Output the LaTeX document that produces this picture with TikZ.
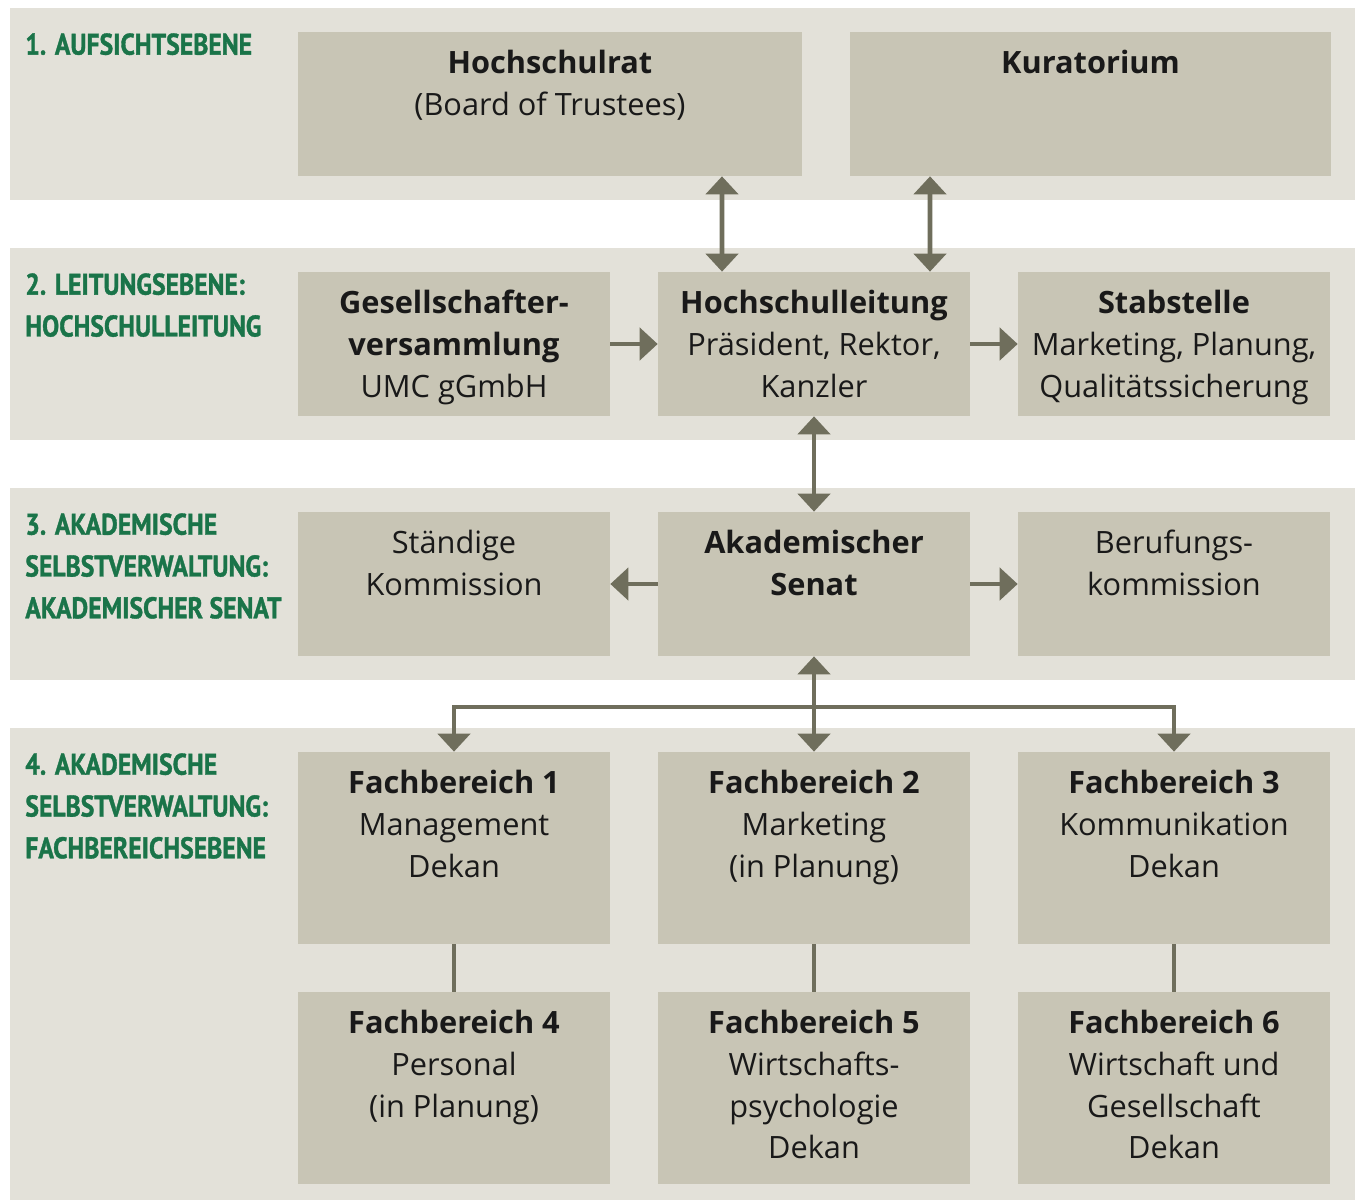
\documentclass[tikz,border=0pt]{standalone}
\usepackage{fontspec}
\setmainfont{Open Sans}
\newfontfamily\stufenfont[FakeStretch=0.86, FakeBold=1.2]{PT Sans}
\usetikzlibrary{arrows.meta, positioning}

\definecolor{bandgrau}{HTML}{E3E1D9}
\definecolor{kastengrau}{HTML}{C8C5B5}
\definecolor{pfeilgrau}{HTML}{6F6E5C}
\definecolor{ebenengruen}{HTML}{1A7449}

\begin{document}
\begin{tikzpicture}[x=0.02cm, y=-0.02cm,
	kasten/.style={rectangle, fill=kastengrau, inner sep=0pt, minimum width=6.24cm, minimum height=2.88cm},
	kastentext/.style={anchor=north, align=center, inner sep=0pt, text=black!90, font=\fontsize{17.5}{23.8}\selectfont},
	ebene/.style={anchor=north west, align=left, inner sep=0pt, text=ebenengruen, font=\stufenfont\bfseries\fontsize{17}{23.8}\selectfont},
	pfeil/.style={draw=pfeilgrau, line width=2.7pt, -{Triangle[width=0.64cm,length=0.36cm]}},
	doppel/.style={draw=pfeilgrau, line width=2.7pt, {Triangle[width=0.64cm,length=0.36cm]}-{Triangle[width=0.64cm,length=0.36cm]}},
	linie/.style={draw=pfeilgrau, line width=2.2pt}]

	\useasboundingbox (0,0) rectangle (1361,1202);

	% Ebenen
	\fill[bandgrau] (10,8) rectangle (1355,200);
	\fill[bandgrau] (10,248) rectangle (1355,440);
	\fill[bandgrau] (10,488) rectangle (1355,680);
	\fill[bandgrau] (10,728) rectangle (1355,1200);

	\node[ebene] (E1) at (25,33) {1. AUFSICHTSEBENE};
	\node[ebene] (E2) at (25,273) {2. LEITUNGSEBENE:\\HOCHSCHULLEITUNG};
	\node[ebene] (E3) at (25,513) {3. AKADEMISCHE\\SELBSTVERWALTUNG:\\AKADEMISCHER SENAT};
	\node[ebene] (E4) at (25,753) {4. AKADEMISCHE\\SELBSTVERWALTUNG:\\FACHBEREICHSEBENE};

	% Kaesten
	\node[kasten, minimum width=10.08cm] (hrat) at (550,104) {};
	\node[kasten, minimum width=9.62cm] (kura) at (1090.5,104) {};

	\node[kasten] (ges) at (454,344) {};
	\node[kasten] (hsl) at (814,344) {};
	\node[kasten] (stab) at (1174,344) {};

	\node[kasten] (stk) at (454,584) {};
	\node[kasten] (senat) at (814,584) {};
	\node[kasten] (beruf) at (1174,584) {};

	\node[kasten, minimum height=3.84cm] (fb1) at (454,848) {};
	\node[kasten, minimum height=3.84cm] (fb2) at (814,848) {};
	\node[kasten, minimum height=3.84cm] (fb3) at (1174,848) {};

	\node[kasten, minimum height=3.84cm] (fb4) at (454,1088) {};
	\node[kasten, minimum height=3.84cm] (fb5) at (814,1088) {};
	\node[kasten, minimum height=3.84cm] (fb6) at (1174,1088) {};

	% Beschriftungen
	\node[kastentext] (hrat-t) at ([yshift=-0.36cm]hrat.north) {\textbf{Hochschulrat}\\(Board of Trustees)};
	\node[kastentext] (kura-t) at ([yshift=-0.36cm]kura.north) {\textbf{Kuratorium}};

	\node[kastentext] (ges-t) at ([yshift=-0.36cm]ges.north) {\textbf{Gesellschafter-}\\\textbf{versammlung}\\UMC gGmbH};
	\node[kastentext] (hsl-t) at ([yshift=-0.36cm]hsl.north) {\textbf{Hochschulleitung}\\Präsident, Rektor,\\Kanzler};
	\node[kastentext] (stab-t) at ([yshift=-0.36cm]stab.north) {\textbf{Stabstelle}\\Marketing, Planung,\\Qualitätssicherung};

	\node[kastentext] (stk-t) at ([yshift=-0.36cm]stk.north) {Ständige\\Kommission};
	\node[kastentext] (senat-t) at ([yshift=-0.36cm]senat.north) {\textbf{Akademischer}\\\textbf{Senat}};
	\node[kastentext] (beruf-t) at ([yshift=-0.36cm]beruf.north) {Berufungs-\\kommission};

	\node[kastentext] (fb1-t) at ([yshift=-0.36cm]fb1.north) {\textbf{Fachbereich 1}\\Management\\Dekan};
	\node[kastentext] (fb2-t) at ([yshift=-0.36cm]fb2.north) {\textbf{Fachbereich 2}\\Marketing\\(in Planung)};
	\node[kastentext] (fb3-t) at ([yshift=-0.36cm]fb3.north) {\textbf{Fachbereich 3}\\Kommunikation\\Dekan};

	\node[kastentext] (fb4-t) at ([yshift=-0.36cm]fb4.north) {\textbf{Fachbereich 4}\\Personal\\(in Planung)};
	\node[kastentext] (fb5-t) at ([yshift=-0.36cm]fb5.north) {\textbf{Fachbereich 5}\\Wirtschafts-\\psychologie\\Dekan};
	\node[kastentext] (fb6-t) at ([yshift=-0.36cm]fb6.north) {\textbf{Fachbereich 6}\\Wirtschaft und\\Gesellschaft\\Dekan};

	% Pfeile
	\draw[doppel] ([xshift=3.44cm]hrat.south) -- ([xshift=-1.84cm]hsl.north);
	\draw[doppel] ([xshift=-3.21cm]kura.south) -- ([xshift=2.32cm]hsl.north);

	\draw[pfeil] (ges) -- (hsl);
	\draw[pfeil] (hsl) -- (stab);
	\draw[doppel] (hsl) -- (senat);
	\draw[pfeil] (senat) -- (stk);
	\draw[pfeil] (senat) -- (beruf);

	\coordinate (verteiler) at (814,707);
	\draw[doppel] (senat) -- (fb2);
	\draw[pfeil] (verteiler) -| (fb1);
	\draw[pfeil] (verteiler) -| (fb3);

	\draw[linie] (fb1) -- (fb4);
	\draw[linie] (fb2) -- (fb5);
	\draw[linie] (fb3) -- (fb6);

\end{tikzpicture}
\end{document}
